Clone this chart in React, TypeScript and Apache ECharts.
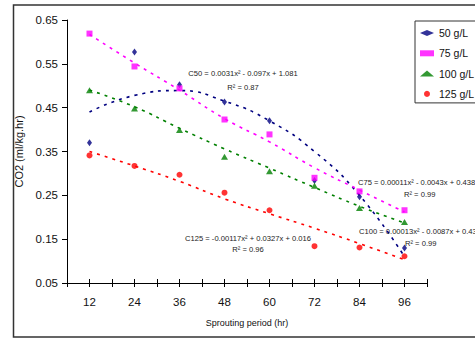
import React, { useEffect, useRef } from "react";
import * as echarts from "echarts";

const hours = [12, 24, 36, 48, 60, 72, 84, 96];
const c50 = [0.37, 0.577, 0.502, 0.463, 0.42, 0.284, 0.247, 0.13];
const c75 = [0.619, 0.544, 0.494, 0.423, 0.389, 0.29, 0.259, 0.216];
const c100 = [0.49, 0.448, 0.399, 0.338, 0.305, 0.272, 0.221, 0.189];
const c125 = [0.341, 0.317, 0.297, 0.256, 0.216, 0.134, 0.131, 0.111];

const t50 = [0.44, 0.478, 0.489, 0.465, 0.42, 0.35, 0.25, 0.11];
const t75 = [0.617, 0.552, 0.49, 0.425, 0.372, 0.313, 0.262, 0.212];
const t100 = [0.49, 0.452, 0.403, 0.356, 0.312, 0.268, 0.225, 0.187];
const t125 = [0.35, 0.317, 0.282, 0.242, 0.208, 0.175, 0.14, 0.103];

const seriesNames = ["50 g/L", "75 g/L", "100 g/L", "125 g/L"];
const colors = ["#000080", "#FF00FF", "#008000", "#FF0000"];
const symbols = ["diamond", "rect", "triangle", "circle"];
const symbolSizes: any[] = [[5, 7], [6, 6], [7, 6], [6, 6]];

const xAxisName = "Sprouting period (hr)";
const yAxisName = "CO2 (ml/kg.hr)";

const annotations = [
  { text: "C50 = 0.0031x² - 0.097x + 1.081", x: 243, y: 73, align: "center" },
  { text: "R² = 0.87", x: 243, y: 87, align: "center" },
  { text: "C75 = 0.00011x² - 0.0043x + 0.438", x: 358, y: 182, align: "left" },
  { text: "R² = 0.99", x: 404, y: 194, align: "left" },
  { text: "C100 = 0.00013x² - 0.0087x + 0.436", x: 359, y: 231, align: "left" },
  { text: "R² = 0.99", x: 405, y: 243, align: "left" },
  { text: "C125 = -0.00117x² + 0.0327x + 0.016", x: 248, y: 238, align: "center" },
  { text: "R² = 0.96", x: 248, y: 249.5, align: "center" },
];

const FONT = "'Liberation Sans', Arial, sans-serif";

export default function App() {
  const ref = useRef<HTMLDivElement>(null);
  useEffect(() => {
    const chart = echarts.init(ref.current!, null, { renderer: "svg" });
    const pts = (vals: number[]) => hours.map((h, i) => [h, vals[i]]);
    const data = [c50, c75, c100, c125];
    const trends = [t50, t75, t100, t125];

    const trendSeries = trends.map((t, i) => ({
      name: "trend" + i,
      type: "line",
      data: pts(t),
      smooth: 0.5,
      symbol: "none",
      z: 2,
      lineStyle: { color: colors[i], width: 1.6, type: [3, 5] },
      silent: true,
    }));
    const scatterSeries = data.map((d, i) => ({
      name: seriesNames[i],
      type: "scatter",
      data: pts(d),
      symbol: symbols[i],
      symbolSize: symbolSizes[i],
      itemStyle: { color: colors[i] },
      z: 5,
    }));

    const option: any = {
      animation: false,
      backgroundColor: "#fff",
      grid: { left: 67, right: 48, top: 20, bottom: 57 },
      xAxis: [
        {
          type: "value",
          min: 6,
          max: 102,
          interval: 6,
          name: xAxisName,
          nameLocation: "middle",
          nameGap: 35,
          nameTextStyle: { fontFamily: FONT, fontSize: 9, color: "#111" },
          axisLine: { lineStyle: { color: "#000", width: 1 } },
          axisTick: { length: 4, lineStyle: { color: "#000" } },
          axisLabel: {
            formatter: (v: number) => (v % 12 === 0 && v >= 12 && v <= 96 ? String(v) : ""),
            color: "#111",
            fontSize: 11.5,
            fontFamily: FONT,
            margin: 13,
          },
          splitLine: { show: false },
        },
        {
          type: "value",
          min: 6,
          max: 102,
          interval: 6,
          position: "bottom",
          axisLine: { show: false },
          axisTick: { inside: true, length: 4, lineStyle: { color: "#000" } },
          axisLabel: { show: false },
          splitLine: { show: false },
        },
      ],
      yAxis: {
        type: "value",
        min: 0.05,
        max: 0.65,
        interval: 0.1,
        name: yAxisName,
        nameLocation: "middle",
        nameGap: 34,
        nameRotate: 90,
        nameTextStyle: { fontFamily: FONT, fontSize: 11, color: "#111" },
        axisLine: { show: true, lineStyle: { color: "#000", width: 1 } },
        axisTick: { show: true, length: 5, lineStyle: { color: "#000" } },
        axisLabel: {
          formatter: (v: number) => v.toFixed(2),
          color: "#111",
          fontSize: 11.5,
          fontFamily: FONT,
          margin: 9,
        },
        splitLine: { show: false },
      },
      legend: {
        orient: "vertical",
        left: 415,
        top: 21,
        padding: [6, 5, 3, 5],
        itemGap: 8.3,
        itemWidth: 14,
        itemHeight: 6,
        borderColor: "#333",
        borderWidth: 1,
        borderRadius: 0,
        backgroundColor: "#fff",
        textStyle: { fontSize: 10.5, fontFamily: FONT, color: "#111", lineHeight: 12 },
        data: seriesNames,
      },
      graphic: [
        {
          type: "rect",
          shape: { x: 13.5, y: 5, width: 480, height: 332 },
          style: { fill: "none", stroke: "#333", lineWidth: 1.5 },
          silent: true,
          z: 0,
        },
        ...annotations.map((a) => ({
          type: "text",
          x: a.x,
          y: a.y,
          z: 10,
          style: {
            text: a.text,
            fontSize: 7.6,
            fontFamily: FONT,
            fill: "#222",
            align: a.align,
            verticalAlign: "middle",
          },
        })),
      ],
      series: [...trendSeries, ...scatterSeries],
    };
    chart.setOption(option);
    return () => chart.dispose();
  }, []);
  return (
    <div
      ref={ref}
      style={{ position: "fixed", left: 0, top: 0, width: 475, height: 340 }}
    />
  );
}
